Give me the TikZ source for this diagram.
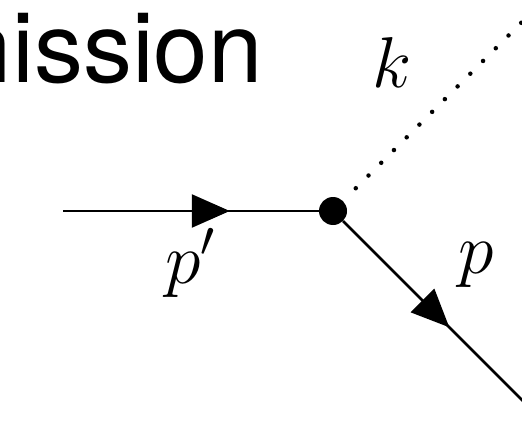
\RequirePackage{fix-cm}
\documentclass[tikz,border=0pt]{standalone}
\usepackage{fontspec}
\setsansfont{TeX Gyre Heros}
\usetikzlibrary{positioning, arrows.meta, decorations.markings}
\tikzset{
    fermion/.style = {line width=2.5pt, postaction={decorate},
        decoration={markings, mark=at position #1 with {\arrow{Triangle[length=38pt,width=33pt]}}}},
    photon/.style = {line width=4.5pt, line cap=round, dash pattern=on 0pt off 18pt},
    vertex/.style = {circle, fill, inner sep=0pt, minimum size=28pt},
    momentum/.style = {inner sep=0pt, font=\fontsize{72}{80}\selectfont}
}

\begin{document}
\begin{tikzpicture}[x=1pt, y=-1pt]
    \useasboundingbox (0,0) rectangle (522,428);
    \clip (0,0) rectangle (522,428);
    \node (title) [anchor=base east, inner sep=0pt, font=\fontsize{98}{110}\sffamily] at (263,82) {Emission};
    \node (v) [vertex] at (333,211) {};
    \coordinate (in) at (63,211);
    \coordinate (out) at (524,402);
    \coordinate (gamma) at (530,14);
    \draw [fermion=0.652] (in) -- (v);
    \draw [fermion=0.587] (v) -- (out);
    \draw [photon, shorten <=18pt] (v) -- (gamma);
    \node (kl) [momentum] at (392,63) {$k$};
    \node (pin) [momentum] at (190,263) {$p'$};
    \node (pout) [momentum] at (476,265) {$p$};
\end{tikzpicture}
\end{document}
